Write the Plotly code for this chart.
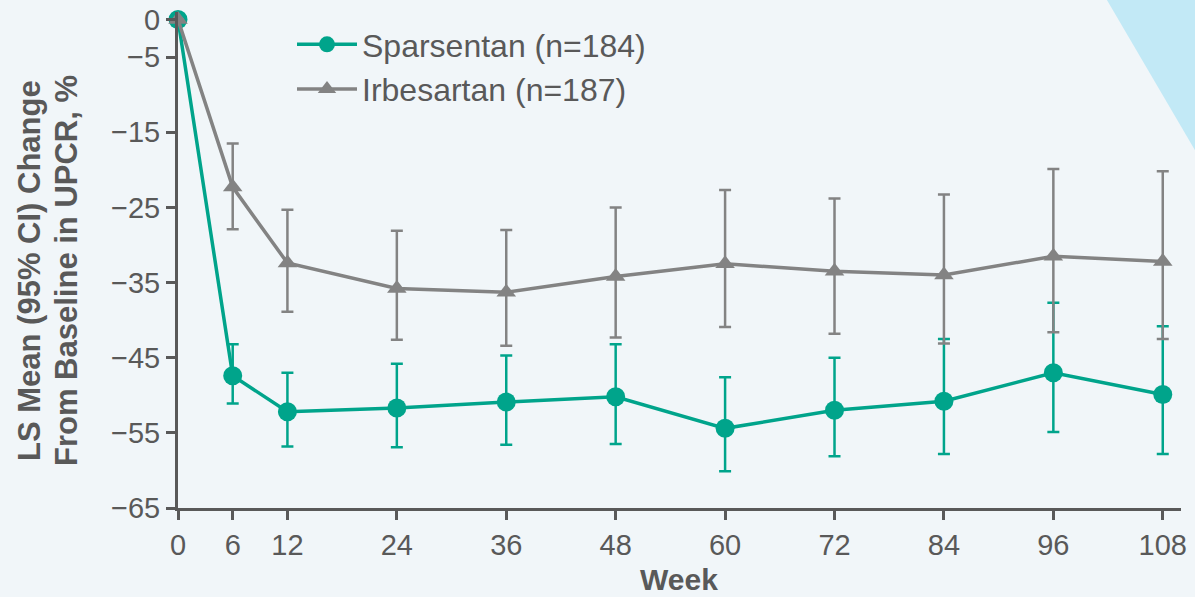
import plotly.graph_objects as go

# Study weeks
weeks = [0, 6, 12, 24, 36, 48, 60, 72, 84, 96, 108]

# Sparsentan: LS mean % change in UPCR with 95% CI bounds
spar_mean = [0, -47.4, -52.2, -51.7, -50.9, -50.2, -54.4, -52.0, -50.8, -47.0, -49.9]
spar_upper = [0, -43.2, -47.0, -45.8, -44.7, -43.2, -47.6, -45.0, -42.5, -37.7, -40.8]
spar_lower = [0, -51.1, -56.8, -56.9, -56.6, -56.5, -60.1, -58.1, -57.8, -54.9, -57.8]

# Irbesartan: LS mean % change in UPCR with 95% CI bounds
irb_mean = [0, -22.3, -32.4, -35.8, -36.3, -34.2, -32.5, -33.5, -34.0, -31.5, -32.2]
irb_upper = [0, -16.5, -25.3, -28.1, -28.0, -25.0, -22.7, -23.8, -23.3, -19.9, -20.2]
irb_lower = [0, -27.9, -38.9, -42.6, -43.4, -42.3, -40.9, -41.8, -43.1, -41.6, -42.5]

x_ticks = [0, 6, 12, 24, 36, 48, 60, 72, 84, 96, 108]
y_ticks = [0, -5, -15, -25, -35, -45, -55, -65]
y_ticktext = ["0", "\u22125", "\u221215", "\u221225", "\u221235", "\u221245", "\u221255", "\u221265"]

TEAL = "#00A48B"
GREY = "#838383"
AXIS = "#595959"
BG = "#F1F6F9"
FONT = "Liberation Sans, Arial, sans-serif"


def ci(mean, upper, lower):
    plus = [u - m for u, m in zip(upper, mean)]
    minus = [m - l for m, l in zip(mean, lower)]
    return plus, minus


sp_plus, sp_minus = ci(spar_mean, spar_upper, spar_lower)
ir_plus, ir_minus = ci(irb_mean, irb_upper, irb_lower)

fig = go.Figure()

fig.add_trace(go.Scatter(
    x=weeks, y=spar_mean, name="Sparsentan (n=184)",
    mode="lines+markers",
    line=dict(color=TEAL, width=3.5),
    marker=dict(symbol="circle", size=19, color=TEAL),
    error_y=dict(type="data", symmetric=False, array=sp_plus, arrayminus=sp_minus,
                 color=TEAL, thickness=2.5, width=6),
    cliponaxis=False,
))

fig.add_trace(go.Scatter(
    x=weeks, y=irb_mean, name="Irbesartan (n=187)",
    mode="lines+markers",
    line=dict(color=GREY, width=3.5),
    marker=dict(symbol="triangle-up", size=17, color=GREY),
    error_y=dict(type="data", symmetric=False, array=ir_plus, arrayminus=ir_minus,
                 color=GREY, thickness=2.5, width=6),
    cliponaxis=False,
))

# Plot-area edges in pixels
dom_l, dom_r, dom_t, dom_b = 178, 1181, 12, 508


def px_to_paper(px, py):
    return (px - dom_l) / (dom_r - dom_l), (dom_b - py) / (dom_b - dom_t)


# Decorative corner wedge
pts = [px_to_paper(1104, -5), px_to_paper(1230, -5), px_to_paper(1230, 210)]
path = "M {} {} L {} {} L {} {} Z".format(*[c for p in pts for c in p])
fig.add_shape(type="path", path=path, xref="paper", yref="paper",
              fillcolor="#C2E9F6", line=dict(width=0), layer="below")

# Axis titles
title_font = dict(family=FONT, size=31, color=AXIS)
for text, cx in [("<b>LS Mean (95% CI) Change</b>", 29),
                 ("<b>From Baseline in UPCR, %</b>", 66)]:
    ax, ay = px_to_paper(cx, 271)
    fig.add_annotation(text=text, x=ax, y=ay, xref="paper", yref="paper",
                       xanchor="center", yanchor="middle", textangle=-90,
                       showarrow=False, font=title_font)

wx, wy = px_to_paper(679, 579)
fig.add_annotation(text="<b>Week</b>", x=wx, y=wy, xref="paper", yref="paper",
                   xanchor="center", yanchor="middle", showarrow=False,
                   font=dict(family=FONT, size=30, color=AXIS))

lx, ly = px_to_paper(292, 17)
fig.update_layout(
    width=1195, height=597,
    margin=dict(l=dom_l, r=1195 - dom_r, t=dom_t, b=597 - dom_b),
    paper_bgcolor=BG, plot_bgcolor=BG,
    font=dict(family=FONT, color=AXIS),
    showlegend=True,
    legend=dict(x=lx, y=ly, xanchor="left", yanchor="top",
                bgcolor="rgba(0,0,0,0)", font=dict(size=32, color=AXIS),
                itemwidth=60, tracegroupgap=0),
    xaxis=dict(
        range=[0, 110], tickvals=x_ticks, ticktext=[str(t) for t in x_ticks],
        showgrid=False, zeroline=False, showline=True, linecolor=AXIS, linewidth=3,
        ticks="outside", ticklen=9, tickwidth=3, tickcolor=AXIS,
        tickfont=dict(size=29, color=AXIS), automargin=False,
    ),
    yaxis=dict(
        range=[-65, 1], tickvals=y_ticks, ticktext=y_ticktext,
        showgrid=False, zeroline=False, showline=True, linecolor=AXIS, linewidth=3,
        ticks="outside", ticklen=9, tickwidth=3, tickcolor=AXIS,
        tickfont=dict(size=29, color=AXIS), automargin=False,
    ),
)

fig.write_html("out.html")
